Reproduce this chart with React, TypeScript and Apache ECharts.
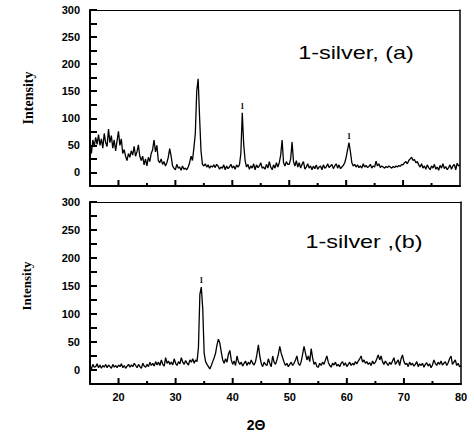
import React, { useEffect, useRef } from "react";
import * as echarts from "echarts";

// 2θ sampling: 15° to 80°, step 0.25°
const X_START = 15;
const X_STEP = 0.25;

// Panel (a) intensity (4 samples per degree, 15.00 … 80.00)
const intensityA = [
  55, 35, 60, 48, 65, 52, 70, 50, 62, 45, 72, 55, 48, 80, 55, 68, 45, 60, 40, 58,
  76, 50, 62, 35, 42, 30, 22, 35, 28, 40, 32, 48, 30, 38, 51, 30, 22, 30, 14, 25,
  12, 28, 20, 35, 42, 60, 38, 50, 22, 18, 25, 15, 20, 12, 18, 28, 44, 30, 12, 8,
  5, 15, 8, 10, 4, 12, 6, 8, 5, 10, 18, 30, 22, 45, 72, 150, 173, 102, 40, 15,
  12, 16, 10, 14, 8, 12, 10, 14, 9, 15, 12, 6, 10, 8, 14, 5, 12, 7, 10, 15,
  8, 12, 6, 14, 10, 14, 35, 110, 52, 22, 10, 15, 6, 12, 8, 16, 5, 14, 9, 12,
  18, 8, 10, 6, 15, 8, 20, 10, 5, 14, 8, 18, 10, 18, 32, 60, 18, 12, 20, 15,
  15, 25, 56, 20, 12, 22, 10, 18, 8, 15, 20, 6, 10, 16, 8, 12, 5, 12, 7, 14,
  6, 10, 12, 5, 14, 8, 10, 16, 9, 12, 15, 7, 12, 16, 8, 14, 7, 10, 13, 18,
  28, 42, 55, 38, 18, 12, 15, 10, 14, 9, 12, 8, 16, 10, 13, 9, 11, 15, 8, 12,
  10, 21, 12, 16, 9, 12, 10, 8, 11, 9, 12, 10, 8, 11, 9, 12, 10, 13, 11, 15,
  14, 18, 20, 16, 22, 25, 28, 22, 24, 18, 20, 14, 10, 16, 8, 12, 6, 14, 9, 5,
  12, 8, 15, 6, 10, 4, 13, 8, 16, 7, 11, 5, 9, 14, 6, 12, 15, 5, 17, 12,
  14,
];

// Panel (b) intensity
const intensityB = [
  8, 2, 10, 5, 6, 11, 4, 9, 3, 8, 5, 10, 4, 9, 6, 3, 10, 5, 8, 4,
  9, 6, 11, 4, 8, 3, 7, 10, 5, 9, 6, 12, 8, 4, 10, 6, 3, 12, 7, 5,
  10, 6, 14, 8, 12, 7, 15, 9, 14, 8, 18, 10, 7, 22, 12, 16, 10, 14, 9, 20,
  12, 8, 15, 11, 22, 14, 10, 17, 12, 9, 18, 14, 20, 12, 18, 15, 40, 135, 148, 110,
  30, 15, 10, 6, 2, 8, 15, 22, 30, 45, 55, 48, 32, 18, 12, 20, 14, 28, 35, 18,
  10, 16, 8, 25, 15, 10, 14, 7, 12, 16, 8, 14, 10, 18, 12, 9, 15, 28, 45, 25,
  12, 6, 14, 10, 8, 20, 12, 6, 25, 14, 10, 18, 28, 42, 30, 22, 14, 8, 12, 6,
  10, 14, 8, 12, 18, 25, 12, 8, 15, 28, 42, 30, 18, 25, 15, 38, 22, 10, 14, 6,
  5, 12, 8, 14, 10, 18, 25, 14, 8, 5, 12, 9, 14, 7, 10, 6, 12, 15, 8, 13,
  6, 10, 14, 8, 12, 9, 15, 11, 16, 20, 25, 14, 18, 12, 15, 10, 13, 8, 16, 11,
  14, 20, 27, 18, 25, 15, 10, 16, 12, 8, 14, 10, 16, 22, 10, 14, 18, 8, 20, 27,
  15, 10, 12, 6, 14, 9, 12, 7, 10, 15, 6, 11, 8, 12, 5, 10, 13, 7, 11, 4,
  9, 18, 12, 8, 14, 10, 16, 9, 12, 15, 8, 13, 20, 25, 10, 14, 18, 8, 12, 6,
  8,
];

// Peak annotations "1" (2θ, intensity)
const peaksA = [
  [41.75, 110],
  [60.5, 55],
];
const peaksB = [[34.5, 148]];

// Tick values (x: major every 10, minor every 5)
const xMajorTicks = [20, 30, 40, 50, 60, 70];
const xMinorTicks = [25, 35, 45, 55, 65, 75];
const titles = ["1-silver, (a)", "1-silver ,(b)"];

const X_MIN = 15;
const X_MAX = 80;
const Y_MIN = -25;
const Y_MAX = 300;

const toPairs = (vals: number[]) =>
  vals.map((v, i) => [X_START + i * X_STEP, v]);

export default function App() {
  const ref = useRef<HTMLDivElement>(null);

  useEffect(() => {
    if (!ref.current) return;
    const chart = echarts.init(ref.current, undefined, { renderer: "svg" });
    const sans = "'Liberation Sans', Arial, sans-serif";
    const serif = "'Liberation Serif', 'Times New Roman', serif";

    const grids = [
      { left: 90, top: 10, width: 370, height: 176 },
      { left: 90, top: 202, width: 371, height: 182 },
    ];

    const xAxes: any[] = [];
    const yAxes: any[] = [];
    grids.forEach((_, gi) => {
      xAxes.push({
        type: "value",
        gridIndex: gi,
        min: X_MIN,
        max: X_MAX,
        interval: 5,
        position: "bottom",
        axisLine: { show: true, onZero: false, lineStyle: { color: "#000", width: 2 } },
        axisTick: { show: false },
        axisLabel: {
          show: gi === 1,
          color: "#000",
          fontFamily: sans,
          fontWeight: "bold",
          fontSize: 11,
          margin: 7,
          formatter: (v: number) => (v % 10 === 0 ? String(v) : ""),
        },
        splitLine: { show: false },
      });
      xAxes.push({
        type: "value",
        gridIndex: gi,
        min: X_MIN,
        max: X_MAX,
        position: "top",
        axisLine: { show: true, onZero: false, lineStyle: { color: "#000", width: 1 } },
        axisTick: { show: false },
        axisLabel: { show: false },
        splitLine: { show: false },
      });
      yAxes.push({
        type: "value",
        gridIndex: gi,
        min: Y_MIN,
        max: Y_MAX,
        interval: 25,
        position: "left",
        axisLine: { show: true, onZero: false, lineStyle: { color: "#000", width: 2 } },
        axisTick: {
          show: true,
          inside: true,
          length: 7,
          lineStyle: { color: "#000", width: 2 },
        },
        axisLabel: {
          color: "#000",
          fontFamily: sans,
          fontWeight: "bold",
          fontSize: 11,
          margin: 10,
          formatter: (v: number) => (v >= 0 && v % 50 === 0 ? String(v) : ""),
        },
        splitLine: { show: false },
      });
      yAxes.push({
        type: "value",
        gridIndex: gi,
        min: Y_MIN,
        max: Y_MAX,
        position: "right",
        axisLine: { show: true, onZero: false, lineStyle: { color: "#000", width: 1.5 } },
        axisTick: { show: false },
        axisLabel: { show: false },
        splitLine: { show: false },
      });
    });

    const peakMark = (peaks: number[][], dist: number) => ({
      symbol: "circle",
      symbolSize: 0,
      silent: true,
      label: {
        show: true,
        formatter: "1",
        position: "top",
        distance: dist,
        color: "#000",
        fontFamily: serif,
        fontWeight: "bold",
        fontSize: 8,
      },
      itemStyle: { color: "#000" },
      data: peaks.map((p) => ({ coord: p })),
    });

    // inward x ticks of two lengths, placed through the axis scale
    const xTickSeries = (xi: number, yi: number) => ({
      type: "custom",
      xAxisIndex: xi,
      yAxisIndex: yi,
      silent: true,
      clip: false,
      data: [
        ...xMajorTicks.map((v) => [v, 6]),
        ...xMinorTicks.map((v) => [v, 3]),
      ],
      renderItem: (_p: any, api: any) => {
        const pt = api.coord([api.value(0), Y_MIN]);
        const len = api.value(1);
        return {
          type: "line",
          shape: { x1: pt[0], y1: pt[1], x2: pt[0], y2: pt[1] - len },
          style: { stroke: "#000", lineWidth: 2 },
        };
      },
    });

    chart.setOption({
      animation: false,
      backgroundColor: "#fff",
      grid: grids.map((g) => ({ ...g, show: false })),
      xAxis: xAxes,
      yAxis: yAxes,
      series: [
        {
          type: "line",
          xAxisIndex: 0,
          yAxisIndex: 0,
          data: toPairs(intensityA),
          showSymbol: false,
          lineStyle: { color: "#000", width: 1.3 },
          markPoint: peakMark(peaksA, 2),
        },
        {
          type: "line",
          xAxisIndex: 2,
          yAxisIndex: 2,
          data: toPairs(intensityB),
          showSymbol: false,
          lineStyle: { color: "#000", width: 1.3 },
          markPoint: peakMark(peaksB, 3),
        },
        xTickSeries(0, 0),
        xTickSeries(2, 2),
      ],
      graphic: [
        {
          type: "text",
          x: 356,
          y: 53,
          scaleX: 1.3,
          style: { text: titles[0], font: `18px ${sans}`, fill: "#000", align: "center", verticalAlign: "middle" },
        },
        {
          type: "text",
          x: 364,
          y: 242,
          scaleX: 1.3,
          style: { text: titles[1], font: `18px ${sans}`, fill: "#000", align: "center", verticalAlign: "middle" },
        },
        {
          type: "text",
          x: 28,
          y: 98,
          rotation: Math.PI / 2,
          style: { text: "Intensity", font: `bold 14px ${serif}`, fill: "#000", align: "center", verticalAlign: "middle" },
        },
        {
          type: "text",
          x: 26,
          y: 286,
          rotation: Math.PI / 2,
          style: { text: "Intensity", font: `bold 13px ${serif}`, fill: "#000", align: "center", verticalAlign: "middle" },
        },
        {
          type: "text",
          x: 256,
          y: 425,
          style: { text: "2Θ", font: `bold 14px ${sans}`, fill: "#000", align: "center", verticalAlign: "middle" },
        },
      ],
    });

    return () => chart.dispose();
  }, []);

  return (
    <div ref={ref} style={{ position: "fixed", left: 0, top: 0, width: 474, height: 433 }} />
  );
}
